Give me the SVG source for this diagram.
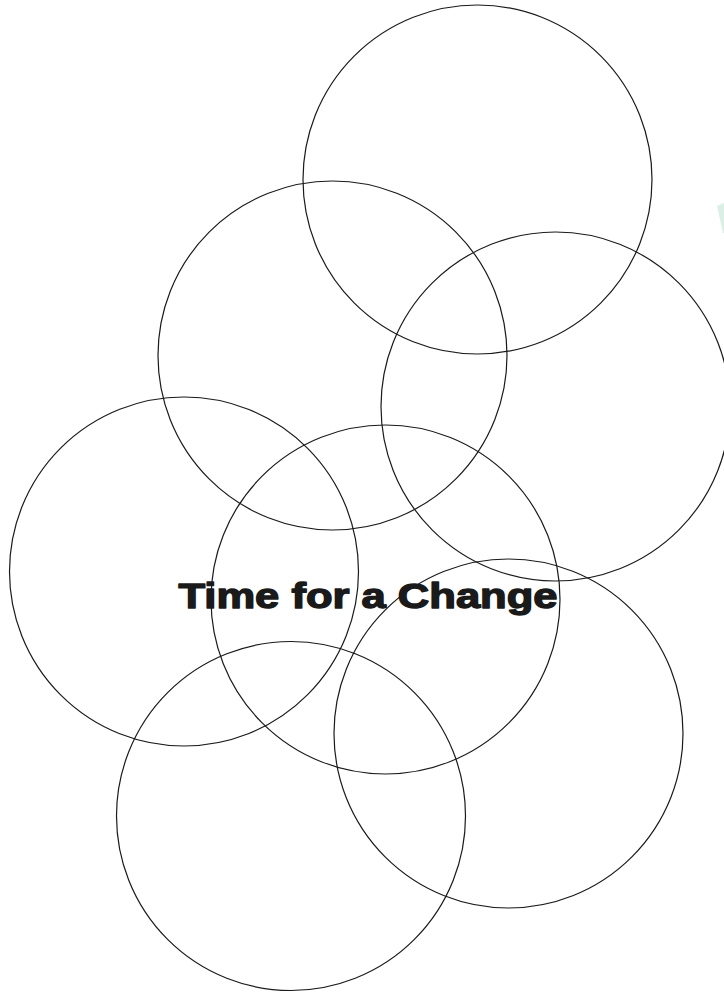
<svg xmlns="http://www.w3.org/2000/svg" width="724" height="994" viewBox="0 0 724 994">
<style>
.c{fill:none;stroke:#1a1a1a;stroke-width:1.2}
.t{font-family:"Liberation Sans",Arial,sans-serif;font-weight:bold;font-size:35px;fill:#1a1a1a;stroke:#1a1a1a;stroke-width:1.4;stroke-linejoin:round}
</style>
<rect width="724" height="994" fill="#ffffff"/>
<polygon points="717,206 724,203 724,233 723,233" fill="#dcefe7"/>
<g id="circles">
<g id="c1"><circle class="c" cx="477.5" cy="179.5" r="174.5"/></g>
<g id="c2"><circle class="c" cx="332.5" cy="355.5" r="174.5"/></g>
<g id="c3"><circle class="c" cx="555.5" cy="406.5" r="174.5"/></g>
<g id="c4"><circle class="c" cx="184" cy="571.5" r="174.5"/></g>
<g id="c5"><circle class="c" cx="385.5" cy="599.5" r="174.5"/></g>
<g id="c6"><circle class="c" cx="508.5" cy="733.5" r="174.5"/></g>
<g id="c7"><circle class="c" cx="291" cy="816" r="174.5"/></g>
</g>
<g id="title"><text class="t" x="178.5" y="607.5" textLength="379" lengthAdjust="spacingAndGlyphs">Time for a Change</text></g>
</svg>
